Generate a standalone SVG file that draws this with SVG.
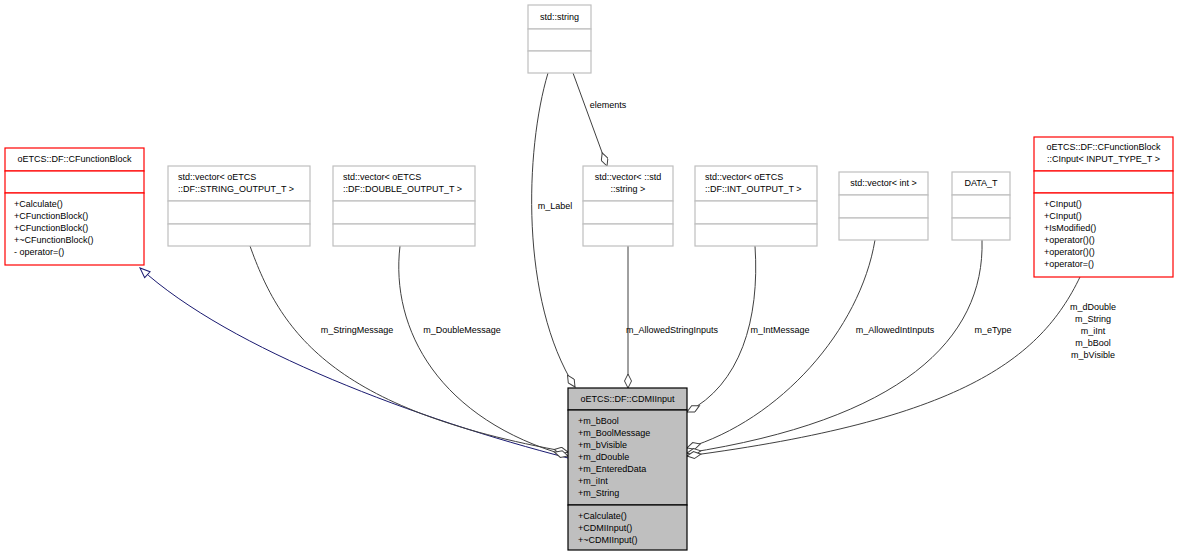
<svg xmlns="http://www.w3.org/2000/svg" width="1179" height="557" viewBox="0 0 1179 557">
<style>
text{font-family:"Liberation Sans",Arial,sans-serif;font-size:9px;fill:#000}
.g{fill:#fff;stroke:#bfbfbf;stroke-width:1.2}
.r{fill:#fff;stroke:#ff0000;stroke-width:1.2}
.m{fill:#bfbfbf;stroke:#000;stroke-width:1.2}
.e{fill:none;stroke:#404040;stroke-width:1}
.b{fill:none;stroke:#191970;stroke-width:1}
.c{text-anchor:middle}
</style>
<defs>
<marker id="dia" viewBox="0 0 16 8" refX="15" refY="4" markerWidth="16" markerHeight="8" orient="auto" markerUnits="userSpaceOnUse"><path d="M1,4 L8,0.5 L15,4 L8,7.5 Z" fill="#fff" stroke="#404040"/></marker>
<marker id="tri" viewBox="0 0 12 10" refX="11" refY="5" markerWidth="12" markerHeight="10" orient="auto" markerUnits="userSpaceOnUse"><path d="M1,1 L11,5 L1,9 Z" fill="#fff" stroke="#191970"/></marker>
</defs>
<g id="edges">
<path class="b" d="M568,458 C420,420 230,350 140,268" marker-end="url(#tri)" transform=""/>
<path class="e" d="M250,246 C280,330 330,410 568,452" marker-end="url(#dia)"/>
<path class="e" d="M400,246 C390,330 440,420 568,456" marker-end="url(#dia)"/>
<path class="e" d="M548,73 C525,150 520,300 575,387" marker-end="url(#dia)"/>
<path class="e" d="M573,73 L607,166" marker-end="url(#dia)"/>
<path class="e" d="M628,246 L628,388" marker-end="url(#dia)"/>
<path class="e" d="M755,246 C760,320 740,385 687,412" marker-end="url(#dia)"/>
<path class="e" d="M875,240 C860,330 780,420 687,448" marker-end="url(#dia)"/>
<path class="e" d="M982,240 C985,340 900,420 687,453" marker-end="url(#dia)"/>
<path class="e" d="M1080,277 C1040,360 960,420 687,456" marker-end="url(#dia)"/>
<text x="357" y="333" class="c">m_StringMessage</text>
<text x="462" y="333" class="c">m_DoubleMessage</text>
<text x="555" y="209" class="c">m_Label</text>
<text x="608" y="108" class="c">elements</text>
<text x="672" y="333" class="c">m_AllowedStringInputs</text>
<text x="780" y="333" class="c">m_IntMessage</text>
<text x="895" y="333" class="c">m_AllowedIntInputs</text>
<text x="993" y="333" class="c">m_eType</text>
<text x="1093" y="310" class="c">m_dDouble</text>
<text x="1093" y="322" class="c">m_String</text>
<text x="1093" y="334" class="c">m_iInt</text>
<text x="1093" y="346" class="c">m_bBool</text>
<text x="1093" y="358" class="c">m_bVisible</text>
</g>
<g id="CFunctionBlock">
<rect class="r" x="5" y="148" width="139" height="23"/><rect class="r" x="5" y="171" width="139" height="22"/><rect class="r" x="5" y="193" width="139" height="72"/>
<text x="74.5" y="162" class="c">oETCS::DF::CFunctionBlock</text>
<text x="14" y="207">+Calculate()</text><text x="14" y="219">+CFunctionBlock()</text><text x="14" y="231">+CFunctionBlock()</text><text x="14" y="243">+~CFunctionBlock()</text><text x="14" y="255">- operator=()</text>
</g>
<g id="StringVec">
<rect class="g" x="168" y="166" width="142" height="35"/><rect class="g" x="168" y="201" width="142" height="23"/><rect class="g" x="168" y="224" width="142" height="22"/>
<text x="178" y="180">std::vector&lt; oETCS</text><text x="178" y="192">::DF::STRING_OUTPUT_T &gt;</text>
</g>
<g id="DoubleVec">
<rect class="g" x="333" y="166" width="142" height="35"/><rect class="g" x="333" y="201" width="142" height="23"/><rect class="g" x="333" y="224" width="142" height="22"/>
<text x="343" y="180">std::vector&lt; oETCS</text><text x="343" y="192">::DF::DOUBLE_OUTPUT_T &gt;</text>
</g>
<g id="StdString">
<rect class="g" x="528" y="5" width="63" height="24"/><rect class="g" x="528" y="29" width="63" height="22"/><rect class="g" x="528" y="51" width="63" height="22"/>
<text x="559.5" y="20" class="c">std::string</text>
</g>
<g id="StringVector">
<rect class="g" x="583" y="166" width="90" height="35"/><rect class="g" x="583" y="201" width="90" height="23"/><rect class="g" x="583" y="224" width="90" height="22"/>
<text x="628" y="180" class="c">std::vector&lt; ::std</text><text x="628" y="192" class="c">::string &gt;</text>
</g>
<g id="IntOutVec">
<rect class="g" x="695" y="166" width="122" height="35"/><rect class="g" x="695" y="201" width="122" height="23"/><rect class="g" x="695" y="224" width="122" height="22"/>
<text x="705" y="180">std::vector&lt; oETCS</text><text x="705" y="192">::DF::INT_OUTPUT_T &gt;</text>
</g>
<g id="IntVec">
<rect class="g" x="839" y="172" width="89" height="23"/><rect class="g" x="839" y="195" width="89" height="23"/><rect class="g" x="839" y="218" width="89" height="22"/>
<text x="883.5" y="186" class="c">std::vector&lt; int &gt;</text>
</g>
<g id="DataT">
<rect class="g" x="952" y="172" width="58" height="23"/><rect class="g" x="952" y="195" width="58" height="23"/><rect class="g" x="952" y="218" width="58" height="22"/>
<text x="981" y="186" class="c">DATA_T</text>
</g>
<g id="CInput">
<rect class="r" x="1034" y="137" width="139" height="34"/><rect class="r" x="1034" y="171" width="139" height="22"/><rect class="r" x="1034" y="193" width="139" height="84"/>
<text x="1103.5" y="150" class="c">oETCS::DF::CFunctionBlock</text><text x="1103.5" y="162" class="c">::CInput&lt; INPUT_TYPE_T &gt;</text>
<text x="1044" y="207">+CInput()</text><text x="1044" y="219">+CInput()</text><text x="1044" y="231">+IsModified()</text><text x="1044" y="243">+operator()()</text><text x="1044" y="255">+operator()()</text><text x="1044" y="267">+operator=()</text>
</g>
<g id="CDMIInput">
<rect class="m" x="568" y="388" width="119" height="22"/><rect class="m" x="568" y="410" width="119" height="95"/><rect class="m" x="568" y="505" width="119" height="45"/>
<text x="627.5" y="402" class="c">oETCS::DF::CDMIInput</text>
<text x="578" y="424">+m_bBool</text><text x="578" y="436">+m_BoolMessage</text><text x="578" y="448">+m_bVisible</text><text x="578" y="460">+m_dDouble</text><text x="578" y="472">+m_EnteredData</text><text x="578" y="484">+m_iInt</text><text x="578" y="496">+m_String</text>
<text x="578" y="519">+Calculate()</text><text x="578" y="531">+CDMIInput()</text><text x="578" y="543">+~CDMIInput()</text>
</g>
</svg>
